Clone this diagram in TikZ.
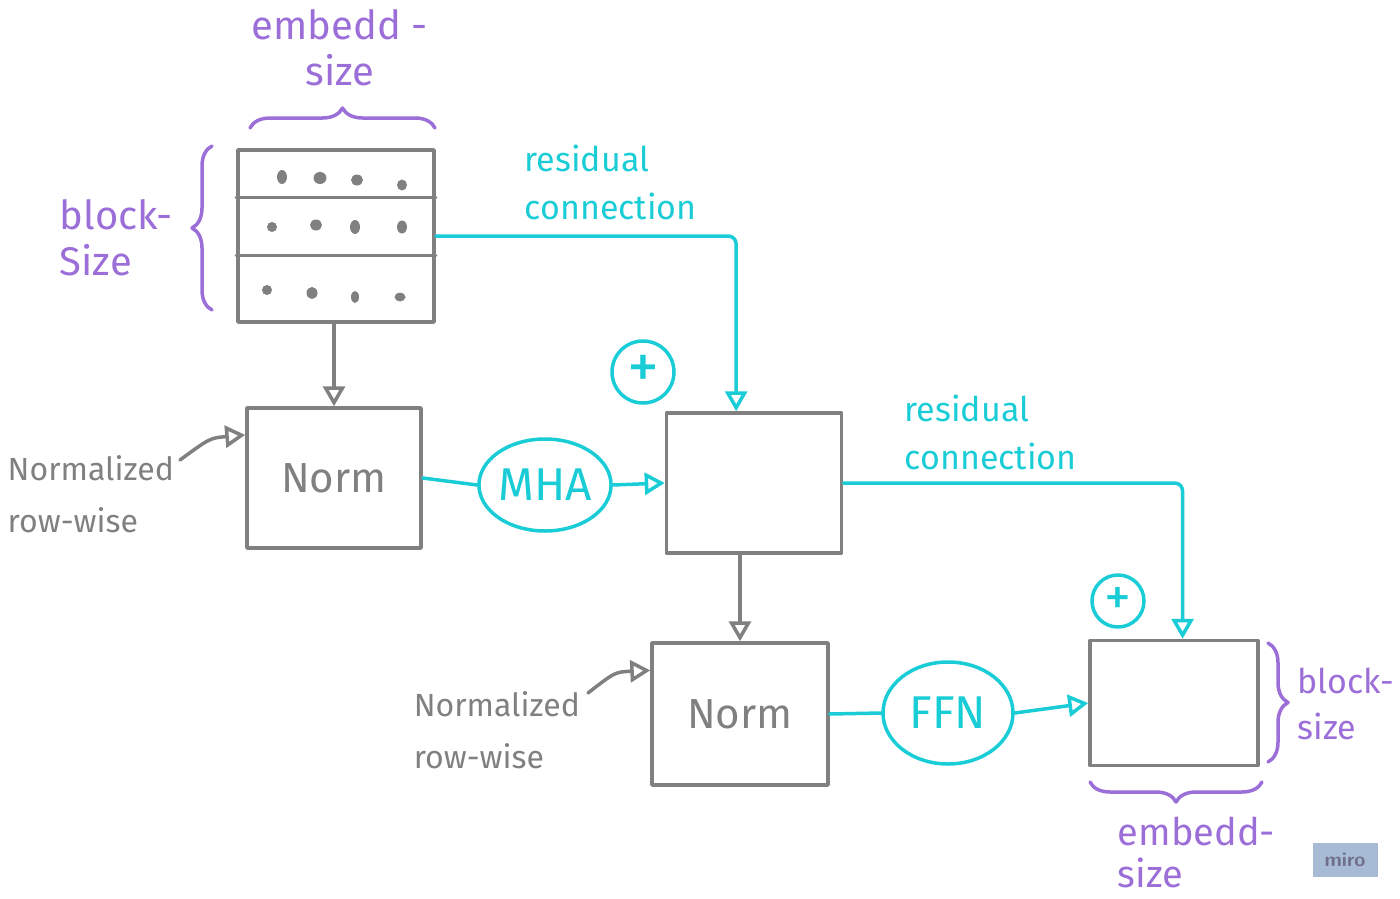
\documentclass[tikz,border=0pt]{standalone}
\usepackage{fontspec}
\setmainfont{Fira Sans}
\usetikzlibrary{arrows.meta,decorations.pathreplacing,shapes.geometric,calc}
\definecolor{pen}{HTML}{808080}
\definecolor{cy}{HTML}{19CCD6}
\definecolor{pu}{HTML}{9B6ED8}
\definecolor{mirobg}{HTML}{A8BBD4}
\definecolor{mirotx}{HTML}{6F6E8C}
\begin{document}
\begin{tikzpicture}[x=1pt,y=-1pt,line width=3.5pt,line cap=round,line join=round,
  box/.style={draw=pen,rectangle,inner sep=0pt,text=pen,font=\fontsize{42}{42}\selectfont},
  opentri/.style={-{Triangle[open,length=20pt,width=22pt,line width=3.5pt]}},
  grayarrow/.style={draw=pen,opentri},
  cyarrow/.style={draw=cy,opentri},
  cyline/.style={draw=cy},
  bubble/.style={ellipse,draw=cy,text=cy,inner sep=0pt,font=\fontsize{46}{46}\selectfont},
  plus/.style={circle,draw=cy,text=cy,inner sep=0pt},
  cylabel/.style={text=cy,align=left,anchor=west,inner sep=0pt,font=\fontsize{34}{48}\selectfont},
  graylabel/.style={text=pen,align=left,anchor=west,inner sep=0pt,font=\fontsize{32}{52}\selectfont},
  pulabel/.style={text=pu,inner sep=0pt,font=\fontsize{40}{46}\selectfont},
  bracepu/.style={draw=pu,decorate,decoration={brace,amplitude=20pt}},
  dot/.style={fill=pen,draw=none}]
\useasboundingbox (0,0) rectangle (1400,899);

% top matrix
\node[box,minimum width=196pt,minimum height=172pt] (mat) at (336,236) {};
\draw[pen] ($(mat.north west)!0.28!(mat.south west)$) -- ($(mat.north east)!0.28!(mat.south east)$);
\draw[pen] ($(mat.north west)!0.61!(mat.south west)$) -- ($(mat.north east)!0.61!(mat.south east)$);
\foreach \x/\y/\a/\b in {282/177/5/7,320/178/6.5/6,357/180/6/5.5,402/185/5/5.5,
  272/227/5/5,316/225/6/5.5,355/227/5/7,402/227/5/6.5,
  267/290/5/5,312/293/5.5/6,355/297/4/6,400/297/5.5/4.5}
  \fill[dot] (\x,\y) ellipse[x radius=\a pt,y radius=\b pt];

% braces and labels, top-left
\draw[bracepu] (250,128) -- (435,128);
\node[pulabel,align=center] (lblE1) at (340,48) {embedd -\\size};
\draw[bracepu] (212,310) -- (212,146);
\node[pulabel,align=left,anchor=west] (lblB1) at (58,238) {block-\\Size};

% boxes
\node[box,minimum width=174pt,minimum height=140pt] (norm1) at (334,478) {Norm};
\node[box,minimum width=175pt,minimum height=140pt] (sum1) at (754,483) {};
\node[box,minimum width=176pt,minimum height=142pt] (norm2) at (740,714) {Norm};
\node[box,minimum width=168pt,minimum height=125pt] (sum2) at (1174,703) {};

% bubbles
\node[bubble,minimum width=126pt,minimum height=92pt] (mha) at (545,485) {MHA};
\node[bubble,minimum width=130pt,minimum height=102pt] (ffn) at (948,713) {FFN};
\node[plus,minimum size=62pt,font=\fontsize{64}{64}\selectfont] (plus1) at (643,372) {\raisebox{-0.05em}{+}};
\node[plus,minimum size=52pt,font=\fontsize{54}{54}\selectfont] (plus2) at (1118,601) {\raisebox{-0.05em}{+}};

% gray arrows
\draw[grayarrow] (norm1.north |- mat.south) -- (norm1.north);
\draw[grayarrow] (norm2.north |- sum1.south) -- (norm2.north);

% normalized labels
\node[graylabel] (nl1) at (6,494) {Normalized\\row-wise};
\coordinate (c1) at (180,460);
\draw[grayarrow] (c1) .. controls (210,438) .. ($(norm1.north west)!0.2!(norm1.south west)$);
\node[graylabel] (nl2) at (412,730) {Normalized\\row-wise};
\coordinate (c2) at (588,693);
\draw[grayarrow] (c2) .. controls (615,672) .. ($(norm2.north west)!0.2!(norm2.south west)$);

% cyan main flow
\draw[cyline] (norm1.east) -- (mha.west);
\draw[cyarrow] (mha.east) -- (sum1.west);
\draw[cyline] (norm2.east) -- (ffn.west);
\draw[cyarrow] (ffn.east) -- (sum2.west);

% residual connections
\coordinate (r1) at ($(sum1.north west)!0.4!(sum1.north east)$);
\draw[cyarrow,rounded corners=8pt] (mat.east) -- (r1 |- mat.east) -- (r1);
\node[cylabel] (res1) at (523,182) {residual\\connection};
\coordinate (r2) at ($(sum2.north west)!0.55!(sum2.north east)$);
\draw[cyarrow,rounded corners=8pt] (sum1.east) -- (r2 |- sum1.east) -- (r2);
\node[cylabel] (res2) at (903,432) {residual\\connection};

% braces, bottom-right
\draw[bracepu] (1268,643) -- (1268,762);
\node[pulabel,align=left,anchor=west,font=\fontsize{34}{46}\selectfont] (lblB2) at (1296,704) {block-\\size};
\draw[bracepu] (1262,782) -- (1090,782);
\node[pulabel,align=left,anchor=west,font=\fontsize{38}{42}\selectfont] (lblE2) at (1116,852) {embedd-\\size};

% miro badge
\node[rectangle,fill=mirobg,text=mirotx,minimum width=65pt,minimum height=34pt,inner sep=0pt,
  font=\sffamily\bfseries\fontsize{20}{20}\selectfont] (miro) at (1345,860) {miro};
\end{tikzpicture}
\end{document}
